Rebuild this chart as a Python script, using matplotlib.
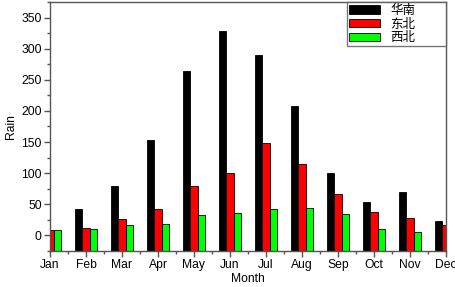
import matplotlib
matplotlib.use("Agg")
import matplotlib.pyplot as plt
import numpy as np
from matplotlib.ticker import MultipleLocator

months = ["Jan", "Feb", "Mar", "Apr", "May", "Jun", "Jul", "Aug", "Sep", "Oct", "Nov", "Dec"]
series_names = ["华南", "东北", "西北"]
huanan = [8, 43, 80, 154, 264, 328, 290, 208, 101, 53, 69, 23]
dongbei = [8, 12, 27, 42, 80, 101, 148, 114, 67, 38, 28, 17]
xibei = [8, 11, 16, 18, 33, 36, 43, 44, 35, 10, 6, 10]
colors = ["#000000", "#ff0000", "#00ff00"]

plt.rcParams['font.family'] = ['Liberation Sans', 'Noto Sans CJK SC', 'DejaVu Sans']

fig = plt.figure(figsize=(4.56, 2.87), dpi=100)
ax = fig.add_axes([50/456, 1-251/287, 396/456, 249/287])

ymin, ymax = -25, 375
x = np.arange(len(months))
w = 0.2
for i, (vals, c, name) in enumerate(zip([huanan, dongbei, xibei], colors, series_names)):
    v = np.array(vals, dtype=float)
    ax.bar(x + (i - 1) * w, v - ymin, width=w, bottom=ymin, color=c,
           edgecolor="black", linewidth=0.6, label=name, zorder=2)

ax.set_xlim(0, len(months) - 1)
ax.set_ylim(ymin, ymax)
ax.set_xticks(x)
ax.set_xticklabels(months)
ax.xaxis.set_minor_locator(MultipleLocator(0.5))
ax.yaxis.set_minor_locator(MultipleLocator(25))
ax.set_yticks(np.arange(0, 351, 50))

fs = 8.7
spine_c = "#555555"
for s in ax.spines.values():
    s.set_color(spine_c)
    s.set_linewidth(1.0)
ax.tick_params(axis="both", which="major", direction="out", length=4, width=1,
               color=spine_c, labelsize=fs, pad=2)
ax.tick_params(axis="both", which="minor", direction="out", length=2, width=1, color=spine_c)
ax.tick_params(top=False, right=False, which="both")

ax.set_xlabel("Month", fontsize=fs, labelpad=1)
ax.set_ylabel("Rain", fontsize=fs, labelpad=3)

leg = ax.legend(loc="upper right", bbox_to_anchor=(0.75, 0.0, 0.25, 1.0), mode="expand",
                prop={'family': ['Noto Sans CJK SC', 'DejaVu Sans'], 'size': 9},
                frameon=True, fancybox=False, borderaxespad=0,
                handlelength=2.5, handleheight=0.65, handletextpad=0.8,
                labelspacing=0.05, borderpad=0.15, edgecolor=spine_c)
leg.get_frame().set_linewidth(1.0)
leg.set_zorder(5)

fig.savefig("out.png", dpi=100)
